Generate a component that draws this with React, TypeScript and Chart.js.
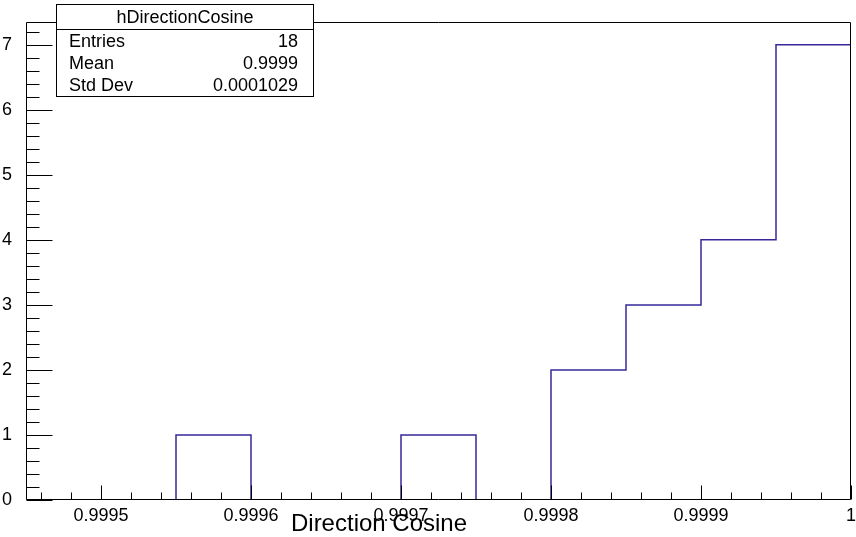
import React, { useEffect, useRef } from "react";
import { Chart, registerables } from "chart.js";

Chart.register(...registerables);

// Histogram data (bin low edges and bin contents)
const binLowEdges = [0.99945, 0.9995, 0.99955, 0.9996, 0.99965, 0.9997, 0.99975, 0.9998, 0.99985, 0.9999, 0.99995];
const binCounts = [0, 0, 1, 0, 0, 1, 0, 2, 3, 4, 7];
const xMin = 0.99945;
const xMax = 1.0;
const yMin = 0;
const yMax = 7.35;

const xTickValues = [0.9995, 0.9996, 0.9997, 0.9998, 0.9999, 1.0];
const xTickLabels = ["0.9995", "0.9996", "0.9997", "0.9998", "0.9999", "1"];
const yTickValues = [0, 1, 2, 3, 4, 5, 6, 7];
const yTickLabels = ["0", "1", "2", "3", "4", "5", "6", "7"];

const histTitle = "hDirectionCosine";
const statNames = ["Entries", "Mean", "Std Dev"];
const statValues = ["18", "0.9999", "0.0001029"];
const xAxisTitle = "Direction Cosine";

const FONT = "'Liberation Sans', Arial, Helvetica, sans-serif";

const rootPlugin = {
  id: "rootStyle",
  afterDatasetsDraw(chart: any) {
    const ctx = chart.ctx;
    const { left, right, top, bottom } = chart.chartArea;
    const xs = chart.scales.x;
    const ys = chart.scales.y;
    ctx.save();
    ctx.strokeStyle = "#000";
    ctx.lineWidth = 1;
    // frame
    const L = Math.round(left) + 0.5;
    const R = Math.round(right) - 0.5;
    const T = Math.round(top) + 0.5;
    const B = Math.round(bottom) - 0.5;
    ctx.beginPath();
    ctx.rect(L, T, R - L, B - T);
    ctx.stroke();
    // x ticks (inward)
    ctx.beginPath();
    for (let i = 0; i <= 27; i++) {
      const v = (99946 + 2 * i) / 100000;
      if (v > xMax + 1e-9) break;
      const px = Math.round(xs.getPixelForValue(v)) + 0.5;
      const major = (99946 + 2 * i) % 10 === 0;
      const len = major ? 14 : 7;
      ctx.moveTo(px, B);
      ctx.lineTo(px, B - len);
    }
    // y ticks (inward)
    for (let i = 0; i <= 36; i++) {
      const v = i * 0.2;
      if (v > yMax) break;
      const py = Math.round(ys.getPixelForValue(v)) + 0.5;
      const major = i % 5 === 0;
      const len = major ? 26 : 13;
      ctx.moveTo(L, py);
      ctx.lineTo(L + len, py);
    }
    ctx.stroke();
    ctx.restore();
  },
  afterDraw(chart: any) {
    const ctx = chart.ctx;
    ctx.save();
    // stats box
    const bx = 56.5, by = 4.5, bw = 257, bh = 92;
    ctx.fillStyle = "#fff";
    ctx.fillRect(bx, by, bw, bh);
    ctx.strokeStyle = "#000";
    ctx.lineWidth = 1;
    ctx.strokeRect(bx, by, bw, bh);
    ctx.beginPath();
    ctx.moveTo(bx, 29.5);
    ctx.lineTo(bx + bw, 29.5);
    ctx.stroke();
    ctx.fillStyle = "#000";
    ctx.font = `18px ${FONT}`;
    ctx.textBaseline = "alphabetic";
    ctx.textAlign = "center";
    ctx.fillText(histTitle, bx + bw / 2, 23);
    const baselines = [47, 69, 91];
    statNames.forEach((n, i) => {
      ctx.textAlign = "left";
      ctx.fillText(n, 69, baselines[i]);
      ctx.textAlign = "right";
      ctx.fillText(statValues[i], 298, baselines[i]);
    });
    // x axis title
    ctx.font = `24px ${FONT}`;
    ctx.textAlign = "center";
    ctx.fillText(xAxisTitle, 379, 531);
    ctx.restore();
  },
};

export default function App() {
  const ref = useRef<HTMLCanvasElement>(null);
  useEffect(() => {
    if (!ref.current) return;
    const points = binLowEdges.map((e, i) => ({ x: e, y: binCounts[i] }));
    points.push({ x: xMax, y: binCounts[binCounts.length - 1] });
    const chart = new Chart(ref.current, {
      type: "line",
      data: {
        datasets: [
          {
            data: points,
            stepped: "before",
            borderColor: "#36289a",
            borderWidth: 1.5,
            pointRadius: 0,
            fill: false,
          },
        ],
      },
      options: {
        animation: false,
        responsive: false,
        events: [],
        layout: { padding: { top: 22, right: 5, left: 0, bottom: 0 } },
        plugins: { legend: { display: false }, tooltip: { enabled: false } },
        scales: {
          x: {
            type: "linear",
            min: xMin,
            max: xMax,
            grid: { display: false },
            border: { display: false },
            afterBuildTicks: (s: any) => {
              s.ticks = xTickValues.map((v) => ({ value: v }));
            },
            afterFit: (s: any) => {
              s.height = 37;
            },
            ticks: {
              autoSkip: false,
              maxRotation: 0,
              padding: -3,
              color: "#000",
              font: { family: FONT, size: 18 },
              callback: (_v: any, i: number) => xTickLabels[i],
            },
          },
          y: {
            type: "linear",
            min: yMin,
            max: yMax,
            grid: { display: false },
            border: { display: false },
            afterBuildTicks: (s: any) => {
              s.ticks = yTickValues.map((v) => ({ value: v }));
            },
            afterFit: (s: any) => {
              s.width = 26;
            },
            ticks: {
              autoSkip: false,
              padding: 6,
              color: "#000",
              font: { family: FONT, size: 18 },
              callback: (_v: any, i: number) => yTickLabels[i],
            },
          },
        },
      },
      plugins: [rootPlugin],
    });
    return () => chart.destroy();
  }, []);
  return (
    <div style={{ position: "absolute", left: 0, top: 0, width: 856, height: 537, background: "#fff" }}>
      <canvas ref={ref} width={856} height={537} />
    </div>
  );
}
